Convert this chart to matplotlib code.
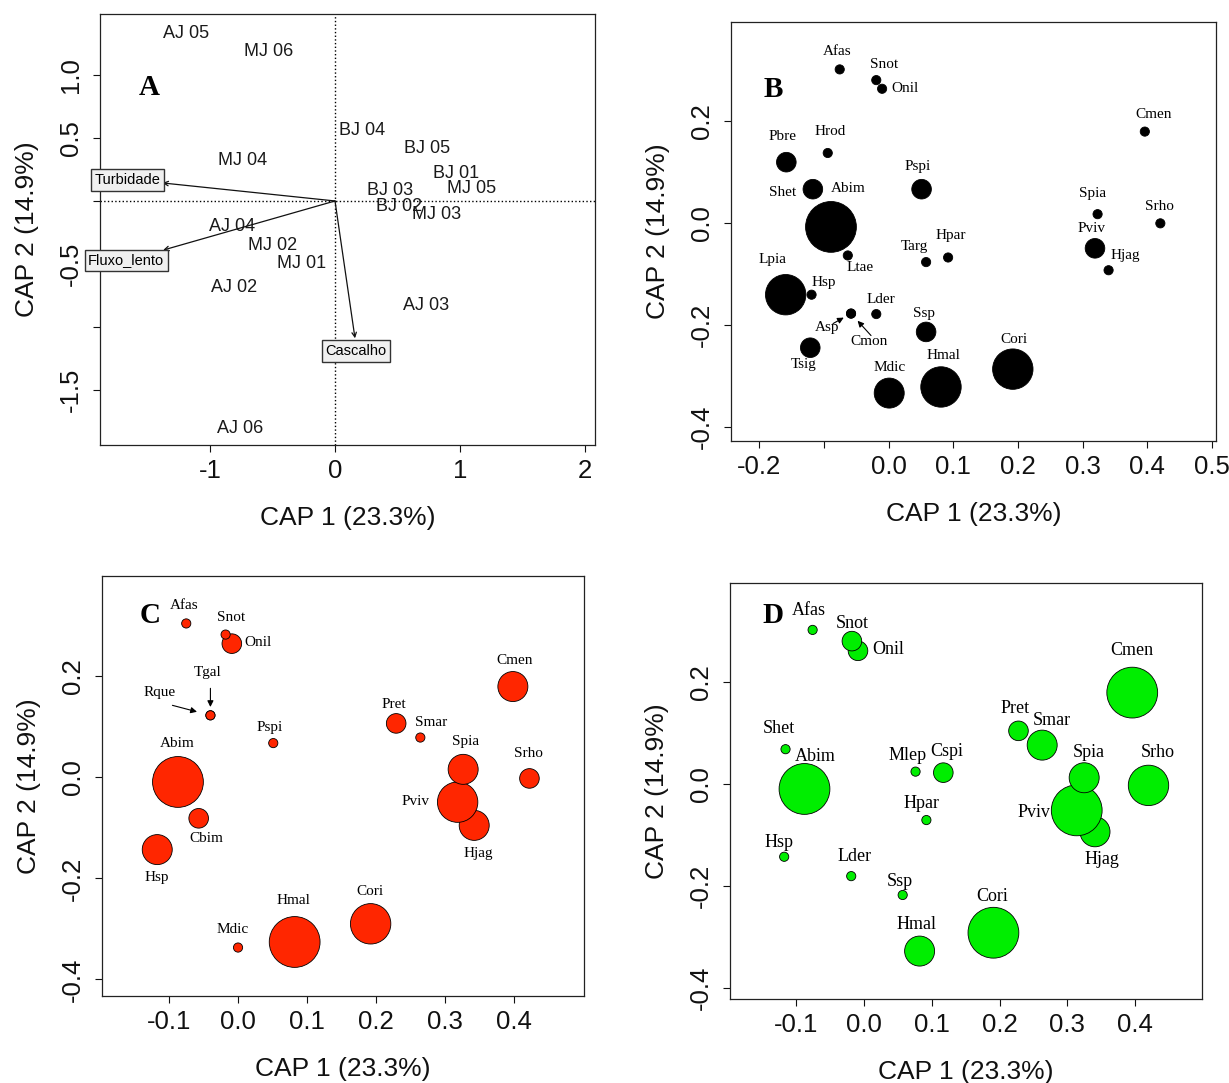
import numpy as np
import matplotlib.pyplot as plt

plt.rcParams['axes.unicode_minus'] = False
plt.rcParams['font.family'] = ['Liberation Sans', 'DejaVu Sans']

W, H = 1229, 1083

# ---- Panel A: site scores and environmental vectors
a_sites = ['AJ 05', 'MJ 06', 'BJ 04', 'BJ 05', 'MJ 04', 'BJ 01', 'MJ 05', 'BJ 03',
           'BJ 02', 'MJ 03', 'AJ 04', 'MJ 02', 'MJ 01', 'AJ 02', 'AJ 03', 'AJ 06']
a_x = [-1.19, -0.53, 0.22, 0.74, -0.74, 0.965, 1.09, 0.44,
       0.51, 0.81, -0.82, -0.50, -0.27, -0.81, 0.73, -0.76]
a_y = [1.33, 1.19, 0.56, 0.42, 0.32, 0.22, 0.10, 0.08,
       -0.04, -0.11, -0.20, -0.35, -0.50, -0.69, -0.83, -1.81]

env_names = ['Turbidade', 'Fluxo_lento', 'Cascalho']
env_x = [-1.38, -1.375, 0.16]
env_y = [0.143, -0.39, -1.09]
env_lab_x = [-1.66, -1.67, 0.168]
env_lab_y = [0.167, -0.47, -1.19]

# ---- Panel B: species scores (size class 1-5)
b_names = ['Afas', 'Onil', 'Snot', 'Cmen', 'Hrod', 'Pbre', 'Shet', 'Abim', 'Pspi', 'Spia',
           'Srho', 'Pviv', 'Hjag', 'Ltae', 'Targ', 'Hpar', 'Lpia', 'Hsp', 'Asp', 'Cmon',
           'Lder', 'Ssp', 'Tsig', 'Mdic', 'Hmal', 'Cori']
b_x = [-0.0755, -0.010, -0.019, 0.396, -0.094, -0.158, -0.117, -0.089, 0.051, 0.323,
       0.420, 0.319, 0.340, -0.063, 0.058, 0.092, -0.159, -0.119, -0.058, -0.058,
       -0.019, 0.058, -0.121, 0.001, 0.081, 0.192]
b_y = [0.301, 0.263, 0.280, 0.179, 0.137, 0.119, 0.066, -0.008, 0.066, 0.017,
       -0.001, -0.050, -0.093, -0.064, -0.077, -0.068, -0.141, -0.141, -0.178, -0.178,
       -0.179, -0.214, -0.245, -0.334, -0.322, -0.287]
b_size = [1, 1, 1, 1, 1, 2, 2, 5, 2, 1,
          1, 2, 1, 1, 1, 1, 4, 1, 1, 1,
          1, 2, 2, 3, 4, 4]

# ---- Panel C
c_names = ['Afas', 'Onil', 'Snot', 'Cmen', 'Tgal', 'Rque', 'Pret', 'Smar', 'Pspi', 'Srho',
           'Abim', 'Hjag', 'Pviv', 'Spia', 'Cbim', 'Hsp', 'Mdic', 'Hmal', 'Cori']
c_x = [-0.075, -0.009, -0.018, 0.398, -0.040, -0.040, 0.229, 0.264, 0.051, 0.422,
       -0.087, 0.342, 0.318, 0.326, -0.057, -0.117, 0.000, 0.082, 0.192]
c_y = [0.305, 0.265, 0.283, 0.180, 0.123, 0.123, 0.107, 0.079, 0.068, -0.002,
       -0.009, -0.095, -0.049, 0.016, -0.081, -0.143, -0.337, -0.326, -0.290]
c_size = [1, 2, 1, 3, 1, 1, 2, 1, 1, 2,
          5, 3, 4, 3, 2, 3, 1, 5, 4]

# ---- Panel D
d_names = ['Afas', 'Onil', 'Snot', 'Cmen', 'Shet', 'Pret', 'Smar', 'Abim', 'Mlep', 'Cspi',
           'Srho', 'Hjag', 'Pviv', 'Spia', 'Hpar', 'Hsp', 'Lder', 'Ssp', 'Hmal', 'Cori']
d_x = [-0.076, -0.009, -0.018, 0.396, -0.116, 0.228, 0.263, -0.088, 0.076, 0.117,
       0.420, 0.341, 0.314, 0.325, 0.092, -0.118, -0.019, 0.057, 0.082, 0.191]
d_y = [0.302, 0.261, 0.280, 0.179, 0.068, 0.104, 0.076, -0.010, 0.024, 0.022,
       -0.003, -0.094, -0.052, 0.012, -0.071, -0.143, -0.181, -0.218, -0.328, -0.292]
d_size = [1, 2, 2, 5, 1, 2, 3, 5, 1, 2,
          4, 3, 5, 3, 1, 1, 1, 1, 3, 5]

# label offsets in pixels (dx, dy)
b_offs = {'Afas': (-3, 18), 'Snot': (8, 16), 'Onil': (23, 0), 'Cmen': (9, 17), 'Hrod': (2, 22),
          'Pbre': (-4, 26), 'Shet': (-30, -3), 'Abim': (17, 38), 'Pspi': (-4, 23), 'Spia': (-5, 21),
          'Srho': (-1, 17), 'Pviv': (-3, 20), 'Hjag': (17, 15), 'Targ': (-12, 16), 'Hpar': (3, 22),
          'Ltae': (12, -12), 'Lpia': (-13, 35), 'Hsp': (12, 12), 'Asp': (-24, -14), 'Cmon': (18, -28),
          'Lder': (5, 15), 'Ssp': (-2, 18), 'Tsig': (-7, -17), 'Mdic': (0, 26), 'Hmal': (2, 31),
          'Cori': (1, 30)}
c_offs = {'Afas': (-2, 18), 'Snot': (5, 17), 'Onil': (26, 1), 'Cmen': (2, 26), 'Tgal': (-3, 43),
          'Rque': (-51, 23),
          'Pret': (-2, 19), 'Smar': (11, 15), 'Pspi': (-4, 16), 'Spia': (2, 28), 'Srho': (-1, 25),
          'Abim': (-1, 38), 'Pviv': (-42, 1), 'Hjag': (4, -28), 'Cbim': (8, -20), 'Hsp': (0, -28),
          'Mdic': (-5, 18), 'Hmal': (-1, 41), 'Cori': (-1, 32)}
d_offs = {'Afas': (-4, 19), 'Snot': (0, 18), 'Onil': (30, 1), 'Cmen': (0, 42), 'Shet': (-7, 21),
          'Pret': (-3, 22), 'Smar': (10, 25), 'Abim': (11, 32), 'Mlep': (-8, 16), 'Cspi': (3, 21),
          'Spia': (5, 25), 'Srho': (9, 33), 'Pviv': (-43, -2), 'Hjag': (7, -28), 'Hpar': (-5, 17),
          'Hsp': (-5, 14), 'Lder': (3, 20), 'Ssp': (-3, 14), 'Hmal': (-3, 27), 'Cori': (-1, 36)}

# pointer arrows: start offset from the dot (px) and gap left at the dot (pt)
b_arrows = {'Asp': (-18, -10, 6), 'Cmon': (20, -22, 7)}
c_arrows = {'Tgal': (0, 27, 6), 'Rque': (-38, 10, 10)}


def panel_axes(fig, box):
    left, top, right, bottom = box
    return fig.add_axes([left / W, 1 - bottom / H, (right - left) / W, (bottom - top) / H])


def style_axes(ax, box, xticks, xlabels, yticks, ylabels):
    left, top, right, bottom = box
    ax.set_xticks(xticks)
    ax.set_xticklabels(xlabels)
    ax.set_yticks(yticks)
    ax.set_yticklabels(ylabels)
    ax.tick_params(direction='out', length=5, width=0.8, labelsize=18.5, pad=5, colors='#111111')
    ax.tick_params(axis='y', labelrotation=90, pad=7)
    for lab in ax.get_yticklabels():
        lab.set_va('center')
    ax.set_xlabel('CAP 1 (23.3%)', fontsize=19, va='center', color='#111111')
    ax.set_ylabel('CAP 2 (14.9%)', fontsize=19, va='center', color='#111111')
    ax.xaxis.set_label_coords(0.5, -73 / (bottom - top))
    ax.yaxis.set_label_coords(-73 / (right - left), 0.5)
    for sp in ax.spines.values():
        sp.set_linewidth(0.9)
        sp.set_color('#222222')


def draw_species(ax, names, xs, ys, sizes, offs, color, fsize, arrows=None):
    arrows = arrows or {}
    diam = 10.4 * np.asarray(sizes) - 1.2
    ax.scatter(xs, ys, s=(diam * 0.72) ** 2, c=color, edgecolors='black',
               linewidths=0.6, zorder=3)
    for i, name in enumerate(names):
        ax.annotate(name, (xs[i], ys[i]), xytext=offs[name], textcoords='offset pixels',
                    ha='center', va='center', fontsize=fsize, family='Liberation Serif',
                    zorder=4)
        if name in arrows:
            sx, sy, gap = arrows[name]
            ax.annotate('', (xs[i], ys[i]), xytext=(sx, sy), textcoords='offset pixels',
                        arrowprops=dict(arrowstyle='-|>', color='black', lw=0.8,
                                        mutation_scale=9, shrinkA=0, shrinkB=gap),
                        zorder=4)


def panel_letter(ax, letter, fx, fy):
    ax.text(fx, fy, letter, transform=ax.transAxes, fontsize=21, fontweight='bold',
            family='Liberation Serif', ha='center', va='center')


fig = plt.figure(figsize=(W / 100, H / 100), dpi=100)

# ---------------- A
box_a = (100, 14, 595, 445)
ax = panel_axes(fig, box_a)
ax.set_xlim(-1.88, 2.08)
ax.set_ylim(-1.937, 1.484)
ax.axhline(0, color='black', ls=':', lw=1)
ax.axvline(0, color='black', ls=':', lw=1)
for s, x, y in zip(a_sites, a_x, a_y):
    ax.text(x, y, s, ha='center', va='center', fontsize=13, color='#1a1a1a')
for name, x, y, lx, ly in zip(env_names, env_x, env_y, env_lab_x, env_lab_y):
    ax.annotate('', xy=(x, y), xytext=(0, 0),
                arrowprops=dict(arrowstyle='->', color='#111111', lw=0.9,
                                mutation_scale=8, shrinkA=0, shrinkB=0))
    ax.text(lx, ly, name, ha='center', va='center', fontsize=10.5, clip_on=False,
            bbox=dict(boxstyle='square,pad=0.25', fc='#f0f0f0', ec='#333333', lw=1), zorder=5)
style_axes(ax, box_a, [-1, 0, 1, 2], ['-1', '0', '1', '2'],
           [-1.5, -1, -0.5, 0, 0.5, 1.0], ['-1.5', '', '-0.5', '', '0.5', '1.0'])
panel_letter(ax, 'A', 0.10, 0.83)

# ---------------- B
box_b = (731, 22, 1216, 441)
ax = panel_axes(fig, box_b)
ax.set_xlim(-0.2435, 0.506)
ax.set_ylim(-0.428, 0.394)
draw_species(ax, b_names, b_x, b_y, b_size, b_offs, 'black', 11, b_arrows)
style_axes(ax, box_b, [-0.2, -0.1, 0, 0.1, 0.2, 0.3, 0.4, 0.5],
           ['-0.2', '', '0.0', '0.1', '0.2', '0.3', '0.4', '0.5'],
           [-0.4, -0.2, 0, 0.2], ['-0.4', '-0.2', '0.0', '0.2'])
panel_letter(ax, 'B', 0.087, 0.84)

# ---------------- C
box_c = (102, 576, 584, 996)
ax = panel_axes(fig, box_c)
ax.set_xlim(-0.197, 0.501)
ax.set_ylim(-0.433, 0.399)
draw_species(ax, c_names, c_x, c_y, c_size, c_offs, '#ff2600', 11, c_arrows)
style_axes(ax, box_c, [-0.1, 0, 0.1, 0.2, 0.3, 0.4],
           ['-0.1', '0.0', '0.1', '0.2', '0.3', '0.4'],
           [-0.4, -0.2, 0, 0.2], ['-0.4', '-0.2', '0.0', '0.2'])
panel_letter(ax, 'C', 0.10, 0.907)

# ---------------- D
box_d = (730, 583, 1202, 999)
ax = panel_axes(fig, box_d)
ax.set_xlim(-0.198, 0.499)
ax.set_ylim(-0.422, 0.394)
draw_species(ax, d_names, d_x, d_y, d_size, d_offs, '#00ee00', 13)
style_axes(ax, box_d, [-0.1, 0, 0.1, 0.2, 0.3, 0.4],
           ['-0.1', '0.0', '0.1', '0.2', '0.3', '0.4'],
           [-0.4, -0.2, 0, 0.2], ['-0.4', '-0.2', '0.0', '0.2'])
panel_letter(ax, 'D', 0.091, 0.923)

fig.savefig('out.png', dpi=100)
